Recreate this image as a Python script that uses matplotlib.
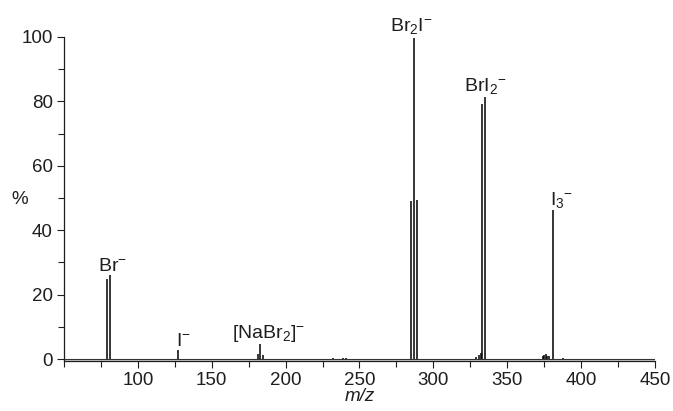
import matplotlib
matplotlib.use("Agg")
import matplotlib.pyplot as plt
from matplotlib.ticker import MultipleLocator

plt.rcParams['font.family'] = ['Liberation Sans', 'DejaVu Sans']
plt.rcParams['mathtext.fontset'] = 'custom'
plt.rcParams['mathtext.rm'] = 'Liberation Sans'
plt.rcParams['mathtext.it'] = 'Liberation Sans:italic'

# ---- data ----
mz = [79, 81, 127, 181, 183, 185, 232, 239, 241,
      285, 287, 289, 329, 331, 332, 333, 335,
      374, 375, 376, 377, 378, 381, 388]
intensity = [24.8, 26.0, 2.9, 1.6, 4.8, 1.4, 0.3, 0.4, 0.4,
             49.1, 99.8, 49.4, 0.6, 1.2, 1.8, 79.1, 81.3,
             0.8, 1.3, 1.5, 0.9, 1.0, 46.3, 0.4]

label_mz = [80, 127, 183, 287, 334, 381]
label_y = [26.0, 2.9, 4.8, 99.8, 81.3, 46.3]
label_text = [r'Br$^{-}$', r'I$^{-}$', r'[NaBr$_2$]$^{-}$',
              r'Br$_2$I$^{-}$', r'BrI$_2$$^{-}$', r'I$_3$$^{-}$']

x_ticks = [100, 150, 200, 250, 300, 350, 400, 450]
y_ticks = [0, 20, 40, 60, 80, 100]

FS = 13.5
LFS = 14
TXT = '#1e1e1e'

fig = plt.figure(figsize=(6.73, 4.11), dpi=100)
ax = fig.add_axes([0.0951, 0.121, 0.878, 0.789])

ax.fill_between([50, 450], -0.7, 0, color='#cfcfcf', lw=0, zorder=1)
ax.axhline(0, color='#333333', lw=0.8, zorder=2)
ax.vlines(mz, 0, intensity, color='black', lw=1.1, zorder=3)

ax.set_xlim(50, 450)
ax.set_ylim(-0.7, 100)
ax.set_xticks(x_ticks)
ax.set_yticks(y_ticks)
ax.xaxis.set_minor_locator(MultipleLocator(25))
ax.yaxis.set_minor_locator(MultipleLocator(10))
ax.tick_params(axis='both', which='major', length=5, width=0.8,
               labelsize=FS, color=TXT, labelcolor=TXT, pad=3)
ax.tick_params(axis='both', which='minor', length=4, width=0.8, color=TXT)
ax.spines['top'].set_visible(False)
ax.spines['right'].set_visible(False)
ax.spines['left'].set_bounds(-0.7, 100)
for s in ('left', 'bottom'):
    ax.spines[s].set_linewidth(0.9)
    ax.spines[s].set_color(TXT)

ax.set_xlabel('m/z', style='italic', fontsize=FS, labelpad=-1, color=TXT)
ax.set_ylabel('%', rotation=0, fontsize=FS, color=TXT, va='center')
ax.yaxis.set_label_coords(-0.075, 0.5)

offsets = [(3, 0), (4, 0), (6, 0), (-2, 1), (1, 1), (6, 0)]
for xm, ym, t, off in zip(label_mz, label_y, label_text, offsets):
    ax.annotate(t, (xm, ym), xytext=off, textcoords='offset points',
                ha='center', va='bottom', fontsize=LFS, color=TXT,
                annotation_clip=False)

fig.savefig('out.png', dpi=100)
